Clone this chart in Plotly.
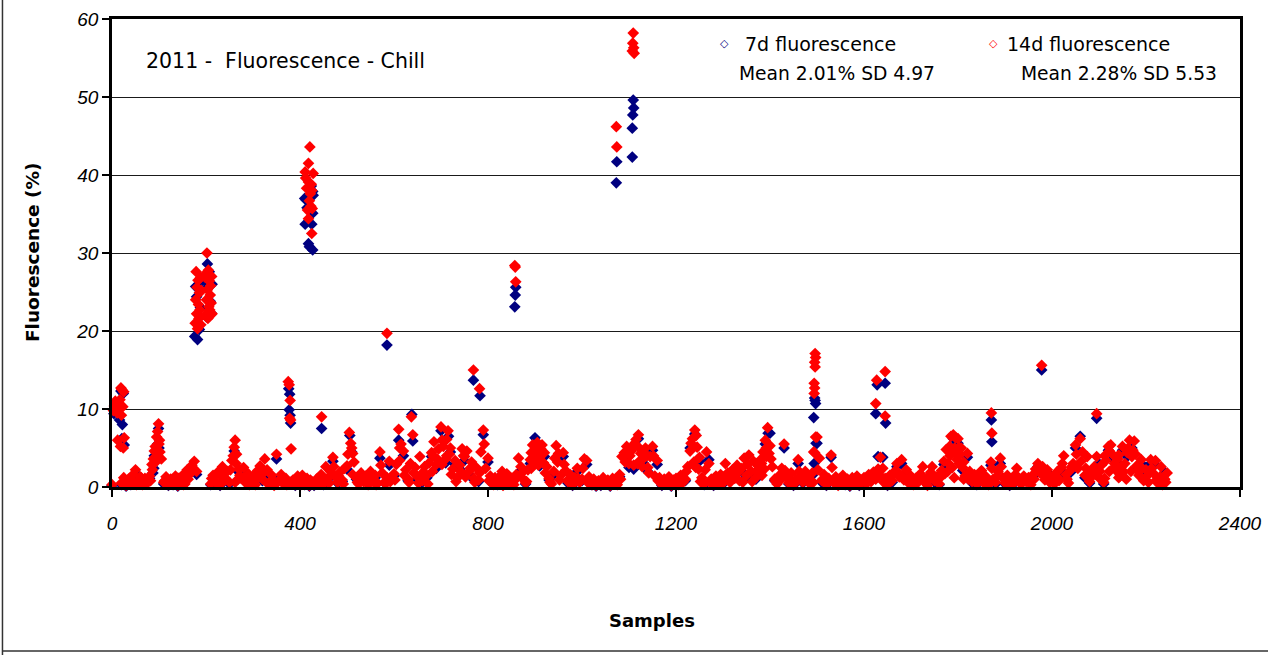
import plotly.graph_objects as go

# 14d fluorescence (%), one reading every 5 samples (None = no low reading there)
fl14_0000 = [0.3, None, None, None, 0.5, 1.2, 0.2, 1.0, 0.4, 1.6, 2.2, 0.7, 1.3, 0.3, 1.1, 0.5, 1.4, 2.9, 4.6, 6.4,
             5.5, 3.6, 0.6, 1.3, 0.3, 1.0, 0.5, 1.4, 0.2, 0.9, 1.5, 0.4, 2.2, 1.6, 2.8, 3.3, 2.0, None, None, None,
             None, None, 0.4, 1.5, 0.7, 1.9, 0.3, 2.6, 1.2, 2.0, 0.6, 3.4, 5.1, 4.2, 2.3, 1.1, 2.5, 0.5, 1.7, 0.8,
             1.4, 0.3, 2.1, 2.7, 1.0, 3.6, 2.2, 0.6, 1.5, 0.2, 4.2, 0.8, 1.6, 0.4, 1.1, 0.5, None, 0.9, 0.3, 1.4]
fl14_0400 = [0.8, 1.5, 0.4, 1.1, 0.2, 0.7, 0.3, 1.0, 0.5, 1.6, 0.4, 2.6, 1.2, 2.0, 3.8, 1.3, 0.6, 1.9, 0.9, 2.4,
             2.7, 7.0, 5.0, 3.2, 1.2, 0.4, 1.8, 0.7, 1.4, 0.3, 2.0, 0.9, 1.5, 0.5, 4.5, 1.8, 0.6, 1.2, 3.3, 1.0,
             1.7, 2.9, 7.4, 5.5, 4.6, 2.2, 1.0, 3.0, 6.7, 2.5, 1.3, 3.9, 0.8, 2.6, 1.5, 3.1, 4.4, 5.8, 2.9, 4.9,
             7.7, 5.2, 3.6, 7.2, 5.0, 2.3, 3.4, 1.2, 2.8, 4.9, 3.9, 4.6, 2.0, 3.2, 1.1, 2.5, 0.9, 4.5, 7.3, 2.4]
fl14_0800 = [3.7, 1.4, 0.5, 1.2, 0.4, 1.3, 2.0, 0.6, 1.7, 0.4, 1.1, 0.3, 1.6, 3.7, 2.6, 1.0, 0.5, 2.2, 3.5, 5.4,
             4.6, 5.7, 3.2, 5.4, 4.4, 2.6, 1.1, 0.4, 2.0, 5.3, 4.3, 1.5, 4.4, 2.1, 0.7, 1.6, 0.3, 1.2, 2.4, 0.6,
             1.0, 3.6, 3.4, 1.3, 0.4, 1.0, 0.2, 0.8, 0.3, 1.2, 0.5, 0.9, 0.2, 1.1, 0.6, 0.3, 1.6, 3.9, 4.4, 5.2,
             3.0, 4.6, 2.8, 6.1, 6.7, 4.3, 3.6, 5.0, 2.5, 3.9, 5.2, 1.4, 3.4, 1.2, 0.3, 1.0, 0.5, 1.3, 0.2, 0.9]
fl14_1200 = [1.1, 0.3, 1.5, 0.6, 1.0, 2.6, 4.6, 6.2, 7.3, 5.1, 3.8, 1.2, 0.4, 4.5, 3.0, 1.0, 0.3, 1.4, 0.7, 1.6,
             0.5, 3.0, 1.8, 0.6, 2.2, 1.1, 2.8, 0.8, 2.4, 3.7, 1.5, 4.1, 2.0, 3.3, 1.2, 2.7, 3.5, 4.5, 6.0, 7.6,
             5.3, 2.6, 1.0, 0.4, 1.5, 2.4, 5.5, 1.2, 0.5, 1.8, 0.3, 1.0, 3.5, 1.4, 0.6, 2.0, 1.2, 0.4, 1.8, 4.4,
             6.4, 3.7, 0.8, 1.6, 0.3, 1.1, 4.1, 0.6, 1.3, 0.2, 0.9, 1.5, 0.4, 1.0, 0.2, 1.2, 0.6, 1.4, 0.3, 0.9]
fl14_1600 = [1.2, 0.4, 1.6, 0.7, 1.9, 1.0, 2.3, 3.8, 2.4, 1.1, 0.3, 1.5, 0.8, 2.0, 3.0, 1.3, 3.5, 0.9, 2.2, 0.5,
             1.4, 0.3, 1.1, 0.6, 1.7, 2.6, 0.9, 0.2, 1.5, 2.6, 0.8, 1.3, 0.4, 2.1, 3.3, 4.8, 3.0, 6.5, 6.7, 6.3,
             6.2, 4.2, 2.5, 1.4, 4.3, 2.0, 0.7, 1.6, 0.4, 1.2, 2.1, 0.5, 1.3, 0.3, 3.2, 1.0, 0.6, 2.0, 3.7, 1.2,
             0.5, 1.5, 0.3, 1.0, 0.6, 2.4, 1.1, 0.4, 1.4, 0.7, 1.2, 0.3, 1.6, 2.3, 3.0, 1.8, 2.6, 0.9, 2.2, 0.6]
fl14_2000 = [1.3, 0.4, 1.9, 0.8, 2.5, 4.0, 1.6, 0.5, 2.2, 3.0, 5.4, 2.4, 6.2, 4.5, 1.5, 3.9, 0.7, 1.8, 2.6, 3.9,
             1.2, 2.8, 0.6, 3.4, 5.2, 5.4, 4.1, 2.2, 3.6, 1.4, 5.2, 3.0, 4.4, 6.0, 3.9, 5.9, 2.7, 1.5, 3.5, 0.8,
             2.2, 0.6, 3.5, 1.8, 3.4, 0.5, 1.3, 0.3, 1.0, 1.8]

# more 14d readings, samples 2, 12, 22, ... (every 10)
fl14_b0000 = [None, None, None, 0.6, 0.9, 0.3, 1.2, 0.4, 0.8, 3.8,
              4.5, 0.8, 0.4, 0.7, 1.1, 0.3, 1.0, 2.4, None, None,
              None, 1.1, 0.5, 1.4, 0.9, 2.2, 0.6, 1.5, 1.0, 0.3,
              0.7, 1.2, 1.8, 0.4, 0.9, 0.6, 1.0, 0.3, 0.7, 0.9]
fl14_b0400 = [0.3, 0.6, 0.9, 0.4, 1.2, 0.9, 0.5, 2.6, 1.4, 0.4,
              4.2, 1.6, 0.6, 1.0, 0.8, 1.1, 0.3, 2.8, 0.4, 0.7,
              0.9, 3.4, 1.5, 0.6, 1.8, 0.5, 1.9, 0.4, 2.0, 3.6,
              2.9, 4.0, 1.6, 0.7, 2.0, 1.3, 2.4, 0.6, 1.8, 5.5]
fl14_b0800 = [0.8, 0.3, 1.0, 0.2, 0.9, 0.6, 1.2, 1.8, 0.7, 2.4,
              3.9, 4.1, 1.8, 0.6, 3.7, 0.9, 2.9, 1.0, 0.5, 1.1,
              2.4, 0.6, 0.3, 0.6, 0.4, 0.7, 0.3, 0.9, 1.0, 3.2,
              4.0, 5.4, 3.3, 4.4, 1.8, 4.0, 0.8, 0.6, 0.9, 0.4]
fl14_b1200 = [0.6, 0.8, 2.0, 5.6, 2.5, 0.7, 2.2, 0.6, 0.9, 0.4,
              1.3, 1.0, 1.7, 1.9, 0.6, 2.9, 0.7, 2.1, 3.0, 3.9,
              3.6, 0.7, 0.9, 2.1, 0.9, 0.6, 2.0, 0.8, 1.3, 0.6,
              2.2, 1.0, 0.6, 2.5, 0.9, 0.5, 0.8, 0.5, 1.0, 0.6]
fl14_b1600 = [0.8, 1.1, 1.4, 1.6, 0.6, 1.0, 1.6, 1.9, 1.3, 0.9,
              0.7, 0.8, 1.0, 0.5, 1.9, 1.0, 1.2, 1.7, 5.2, 4.5,
              5.1, 3.2, 1.0, 0.9, 1.4, 0.8, 0.9, 2.4, 1.3, 2.6,
              0.9, 0.7, 1.6, 0.5, 0.9, 0.8, 1.0, 2.0, 1.4, 1.5]
fl14_b2000 = [0.8, 1.2, 3.0, 1.0, 2.6, 4.2, 3.3, 2.4, 1.2, 1.6,
              2.0, 1.1, 4.6, 2.5, 4.1, 2.0, 5.0, 4.7, 2.1, 2.4,
              1.4, 2.4, 0.9, 2.6, 0.6]

# 7d fluorescence (%), one reading every 10 samples
fl7_0000 = [0.2, None, 0.3, 0.1, 0.3, 1.8, 1.0, 0.8, 1.1, 4.0,
            5.0, 0.4, 0.2, 0.3, 0.1, 1.2, 1.8, 2.4, 1.6, None,
            None, 0.3, 0.5, 0.2, 0.9, 0.4, 4.6, 1.9, 2.1, 1.3,
            1.0, 1.7, 0.8, 1.8, 1.2, 3.6, 1.3, 0.9, None, 0.2]
fl7_0400 = [0.6, 0.3, 0.1, 0.2, 0.4, 0.3, 1.0, 3.3, 0.5, 0.7,
            2.3, 4.5, 1.0, 1.5, 1.1, 1.6, 1.2, 3.7, 0.5, 2.8,
            1.4, 6.0, 4.0, 0.8, 5.9, 1.0, 0.6, 1.2, 3.9, 2.4,
            7.2, 3.1, 4.5, 2.9, 2.3, 3.4, 1.6, 0.9, 0.7, 6.7]
fl7_0800 = [3.2, 0.4, 0.3, 1.6, 1.3, 0.9, 1.2, 2.1, 0.4, 3.0,
            6.3, 2.7, 3.9, 0.9, 1.6, 3.8, 3.9, 0.5, 0.2, 2.0,
            0.8, 2.9, 0.3, 0.1, 0.2, 0.4, 0.1, 0.5, 1.3, 3.9,
            2.5, 2.3, 6.2, 3.1, 2.0, 4.7, 2.9, 0.2, 0.4, 0.1]
fl7_1200 = [0.9, 1.2, 0.8, 5.0, 6.8, 3.3, 0.3, 3.5, 0.2, 0.5,
            0.4, 1.5, 1.8, 2.3, 2.0, 1.2, 1.6, 1.0, 3.0, 5.5,
            6.9, 0.8, 1.2, 5.0, 0.4, 0.2, 3.0, 0.5, 1.0, 1.5,
            5.6, 0.6, 0.2, 3.8, 1.1, 0.7, 0.3, 0.1, 0.5, 0.2]
fl7_1600 = [1.0, 1.3, 1.5, 2.0, 3.8, 0.2, 0.6, 2.6, 3.0, 1.8,
            1.2, 0.9, 1.4, 0.7, 1.2, 0.6, 0.3, 2.9, 2.6, 6.2,
            5.6, 2.1, 3.8, 0.5, 0.3, 1.8, 1.1, 2.8, 0.4, 3.0,
            0.4, 0.2, 0.5, 0.9, 1.2, 1.0, 1.3, 2.6, 2.2, 1.9]
fl7_2000 = [1.1, 1.6, 2.1, 1.3, 1.9, 5.0, 6.5, 1.2, 0.5, 2.2,
            3.0, 0.4, 4.7, 3.6, 3.1, 4.7, 3.9, 5.0, 2.3, 3.0,
            1.8, 3.0, 2.9, 1.0, 1.9]

# individual samples in the peaks and clusters
peak14_samples = [3, 5, 7, 9, 11, 12, 13, 15, 17, 18, 19, 20, 21, 23, 24, 25, 26,
                  86, 88, 92, 93, 95, 97, 99, 101,
                  177, 178, 179, 180, 181, 182, 183, 184, 185, 186, 187, 188, 189, 190,
                  198, 199, 200, 201, 202, 203, 204, 205, 206, 207, 208, 209, 210, 211, 212, 213,
                  258, 262, 264, 268, 375, 377, 378, 379, 380, 381,
                  411, 412, 414, 416, 418, 418, 418, 420, 421, 422, 423, 424, 425, 425, 426, 428,
                  446, 508, 512, 585, 612, 637, 683, 702, 712, 718, 748, 769, 782,
                  857, 858, 859, 892, 897, 903, 907, 912, 918, 948,
                  1073, 1074, 1107, 1108, 1109, 1110, 1111, 1112, 1118, 1122, 1128, 1138,
                  1238, 1243, 1248, 1372, 1383, 1388, 1392, 1398,
                  1493, 1494, 1494, 1495, 1495, 1496, 1496, 1497, 1497,
                  1625, 1627, 1645, 1645, 1778, 1783, 1788, 1792, 1793, 1798, 1803, 1807, 1812,
                  1871, 1872, 1978, 2095, 2112, 2122, 2133, 2142, 2148, 2158, 2168, 2178]
peak14_values = [9.8, 10.4, 11.0, 10.2, 9.5, 6.0, 10.8, 10.0, 11.2, 5.2, 12.7, 9.2, 12.5, 10.3, 5.0, 12.2, 6.3,
                 2.2, 3.6, 5.2, 3.2, 4.5, 7.1, 8.1, 6.0,
                 21.0, 24.0, 27.6, 22.2, 25.6, 20.3, 26.5, 23.4, 21.6, 24.9, 22.7, 26.8, 20.8, 25.2,
                 26.9, 22.0, 27.4, 24.0, 30.0, 25.3, 21.6, 27.8, 23.1, 26.4, 22.7, 24.6, 25.8, 23.6, 27.0, 22.2,
                 4.0, 6.0, 3.0, 1.0, 13.5, 13.1, 8.8, 11.1, 8.6, 4.9,
                 40.4, 39.6, 38.3, 35.5, 41.5, 39.1, 34.4, 36.7, 43.6, 37.6, 36.0, 38.8, 38.0, 32.5, 35.7, 40.2,
                 9.0, 5.6, 4.3, 19.7, 5.0, 9.0, 4.0, 6.0, 6.1, 4.2, 4.0, 15.0, 12.6,
                 28.4, 28.2, 26.3, 4.4, 2.8, 3.6, 2.8, 4.9, 3.1, 3.2,
                 46.2, 43.6, 55.9, 56.9, 58.2, 56.3, 55.6, 5.6, 3.0, 5.0, 2.6, 4.0,
                 3.2, 6.6, 2.3, 3.0, 1.5, 2.3, 5.0, 4.3,
                 4.5, 12.0, 13.3, 12.7, 16.0, 15.4, 17.1, 16.6, 6.4,
                 10.7, 13.7, 14.8, 9.1, 2.0, 4.0, 2.5, 1.2, 5.0, 3.5, 3.0, 5.0, 1.0,
                 9.5, 6.9, 15.6, 9.4, 4.0, 2.0, 3.0, 1.2, 2.6, 1.0, 2.0, 4.2]

peak7_samples = [4, 8, 14, 16, 19, 21, 22, 24, 26,
                 87, 89, 94, 97, 99,
                 176, 178, 180, 182, 184, 186, 188,
                 199, 201, 203, 205, 206, 207, 209, 211, 213,
                 376, 377, 378, 379, 380,
                 410, 411, 413, 415, 418, 420, 424, 425, 427, 427, 427, 428,
                 446, 506, 585, 638, 716, 769, 783, 857, 858, 859,
                 1073, 1074, 1107, 1107, 1108, 1109, 1110, 1396,
                 1493, 1494, 1495, 1496, 1497, 1498,
                 1625, 1628, 1630, 1645, 1646, 1871, 1872, 1978, 2095]
peak7_values = [9.4, 9.9, 10.3, 8.6, 12.3, 6.2, 8.0, 12.0, 5.4,
                1.8, 2.4, 4.0, 5.5, 7.5,
                19.3, 25.7, 24.4, 18.9, 26.0, 20.2, 23.0,
                26.3, 21.8, 28.6, 25.7, 22.0, 27.6, 23.8, 22.3, 26.0,
                12.6, 9.9, 11.9, 9.2, 8.2,
                37.0, 33.7, 36.8, 35.8, 31.2, 30.8, 38.6, 33.7, 37.9, 35.1, 30.4, 37.4,
                7.5, 6.6, 18.2, 9.3, 6.5, 13.7, 11.7, 23.1, 24.6, 25.6,
                39.0, 41.7, 42.3, 46.0, 47.7, 49.6, 48.6, 6.9,
                8.9, 3.0, 11.4, 11.1, 10.7, 5.6,
                9.4, 13.1, 3.9, 13.3, 8.2, 8.6, 5.8, 15.0, 8.8]

NAVY = "#000080"
RED = "#FF0000"
FONT = "DejaVu Sans"
TICKFONT = "Liberation Sans"

band14 = fl14_0000 + fl14_0400 + fl14_0800 + fl14_1200 + fl14_1600 + fl14_2000
band14b = fl14_b0000 + fl14_b0400 + fl14_b0800 + fl14_b1200 + fl14_b1600 + fl14_b2000
band7 = fl7_0000 + fl7_0400 + fl7_0800 + fl7_1200 + fl7_1600 + fl7_2000

x14 = list(range(0, 5 * len(band14), 5)) + list(range(2, 10 * len(band14b), 10)) + peak14_samples
y14 = band14 + band14b + peak14_values
x7 = list(range(0, 10 * len(band7), 10)) + peak7_samples
y7 = band7 + peak7_values

fig = go.Figure()

fig.add_trace(go.Scatter(x=x7, y=y7, mode="markers", name="7d fluorescence",
                         marker=dict(symbol="diamond", size=9, color=NAVY, line=dict(width=0)),
                         cliponaxis=False, showlegend=False))
fig.add_trace(go.Scatter(x=x14, y=y14, mode="markers", name="14d fluorescence",
                         marker=dict(symbol="diamond", size=9, color=RED, line=dict(width=0)),
                         cliponaxis=False, showlegend=False))

fig.update_layout(
    width=1268, height=655,
    margin=dict(l=112, r=28, t=19, b=168, autoexpand=False),
    paper_bgcolor="white", plot_bgcolor="white",
    font=dict(family=FONT, color="black"),
    showlegend=False,
)

fig.update_xaxes(range=[0, 2400], tickvals=[0, 400, 800, 1200, 1600, 2000, 2400],
                 automargin=False,
                 showgrid=False, zeroline=False, showline=True, linewidth=2.5, linecolor="black",
                 mirror=True, ticks="outside", ticklen=7, tickwidth=1.5, tickcolor="black",
                 ticklabelstandoff=10,
                 tickfont=dict(family=TICKFONT, size=19, style="italic", color="black"))
fig.update_yaxes(range=[0, 60], dtick=10, automargin=False,
                 showgrid=True, gridcolor="#1a1a1a", gridwidth=1.3, zeroline=False,
                 showline=True, linewidth=2.5, linecolor="black", mirror=True,
                 ticks="outside", ticklen=7, tickwidth=1.5, tickcolor="black",
                 tickfont=dict(family=TICKFONT, size=19, style="italic", color="black"))

# legend, written out as in the original
legend_items = [("◇", 0.5426, "center", 11, NAVY), ("7d fluorescence", 0.5594, "left", 19, "black"),
                ("◇", 0.7819, "center", 11, RED), ("14d fluorescence", 0.7917, "left", 19, "black")]
for text, xp, anchor, size, color in legend_items:
    fig.add_annotation(text=text, xref="paper", yref="paper", x=xp, y=0.9466,
                       xanchor=anchor, yanchor="middle",
                       showarrow=False, font=dict(family=FONT, size=size, color=color))

fig.add_annotation(text="2011 -  Fluorescence - Chill", xref="paper", yref="paper",
                   x=0.0284, y=0.9103, xanchor="left", yanchor="middle", showarrow=False,
                   font=dict(family=FONT, size=20.5, color="black"))
fig.add_annotation(text="Mean 2.01% SD 4.97", xref="paper", yref="paper",
                   x=0.5541, y=0.8825, xanchor="left", yanchor="middle", showarrow=False,
                   font=dict(family=FONT, size=18.7, color="black"))
fig.add_annotation(text="Mean 2.28% SD 5.53", xref="paper", yref="paper",
                   x=0.8041, y=0.8825, xanchor="left", yanchor="middle", showarrow=False,
                   font=dict(family=FONT, size=18.7, color="black"))
fig.add_annotation(text="<b>Samples</b>", xref="paper", yref="paper",
                   x=0.4787, y=-0.2842, xanchor="center", yanchor="middle", showarrow=False,
                   font=dict(family=FONT, size=18, color="black"))
fig.add_annotation(text="<b>Fluorescence (%)</b>", xref="paper", yref="paper",
                   x=-0.0709, y=0.502, xanchor="center", yanchor="middle", showarrow=False,
                   textangle=-90, font=dict(family=FONT, size=18.5, color="black"))

# remains of the outer chart frame (left and bottom edges)
fig.add_shape(type="line", xref="paper", yref="paper", x0=-0.0971, x1=-0.0971, y0=1.05, y1=-0.36,
              line=dict(color="#333333", width=1.5))
fig.add_shape(type="line", xref="paper", yref="paper", x0=-0.0971, x1=1.03, y0=-0.3504, y1=-0.3504,
              line=dict(color="#333333", width=1.5))

fig.write_html("out.html", config={"displayModeBar": False},
               post_script="document.body.style.margin = '0';")
